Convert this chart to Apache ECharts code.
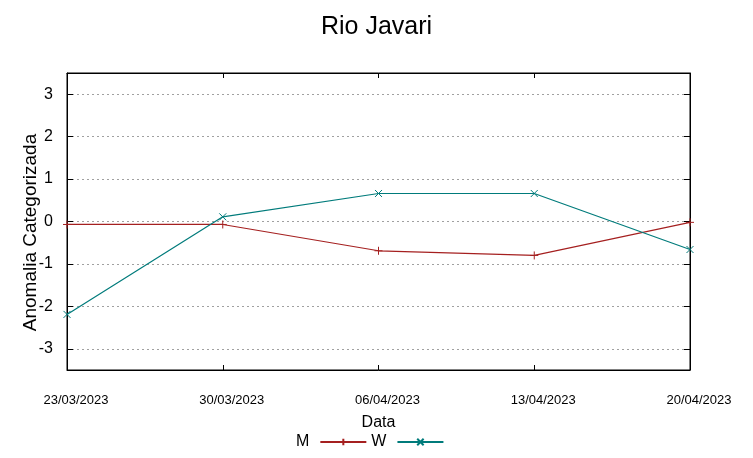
<!DOCTYPE html>
<html><head><meta charset="utf-8">
<script src="https://cdn.jsdelivr.net/npm/echarts@6/dist/echarts.min.js"></script>
<style>html,body{margin:0;padding:0;background:#fff}#c{width:753px;height:458px}</style>
</head><body><div id="c"></div>
<script>
const categories = ['23/03/2023','30/03/2023','06/04/2023','13/04/2023','20/04/2023'];
const seriesM = [-0.07, -0.07, -0.69, -0.80, -0.02];
const seriesW = [-2.19, 0.11, 0.66, 0.66, -0.66];
const yTicks = [-3,-2,-1,0,1,2,3];

const plus = 'path://M0,5L10,5M5,0L5,10';
const cross = 'path://M0,0L10,10M10,0L0,10';
const ff = '"Liberation Sans", Arial, sans-serif';

const chart = echarts.init(document.getElementById('c'), null, {renderer:'canvas'});
chart.setOption({
  animation:false,
  backgroundColor:'#fff',
  title:{text:'Rio Javari', left:'center', top:10, textStyle:{fontFamily:ff, fontSize:25, fontWeight:'normal', color:'#000'}},
  grid:{left:67, right:63, top:73, bottom:88, show:true, borderColor:'#000', borderWidth:1, backgroundColor:'transparent'},
  legend:{
    data:['M','W'], top:429, left:291, align:'right', itemWidth:46, itemHeight:8, itemGap:4,
    textStyle:{fontFamily:ff, fontSize:16, color:'#000', padding:[0,6,0,0]}
  },
  xAxis:[{
    type:'category', data:categories, boundaryGap:false,
    name:'Data', nameLocation:'middle', nameGap:45, nameMoveOverlap:false,
    nameTextStyle:{fontFamily:ff, fontSize:16, color:'#000'},
    axisLine:{show:true, onZero:false, lineStyle:{color:'#000'}},
    axisTick:{show:true, inside:true, length:5, lineStyle:{color:'#000'}},
    axisLabel:{margin:24, fontFamily:ff, fontSize:13, color:'#000', padding:[0,0,0,18]},
    splitLine:{show:false}
  },{
    type:'category', data:categories, boundaryGap:false, position:'top',
    axisLine:{show:true, onZero:false, lineStyle:{color:'#000'}},
    axisTick:{show:true, inside:true, length:5, lineStyle:{color:'#000'}},
    axisLabel:{show:false},
    splitLine:{show:false}
  }],
  yAxis:[{
    type:'value', min:-3.5, max:3.5, interval:1,
    name:'Anomalia Categorizada', nameLocation:'middle', nameGap:27, nameMoveOverlap:false,
    nameTextStyle:{fontFamily:ff, fontSize:19, color:'#000', padding:[0,22,0,0]},
    axisLine:{show:true, lineStyle:{color:'#000'}},
    axisTick:{show:true, inside:true, length:6, lineStyle:{color:'#000'}, customValues:yTicks},
    axisLabel:{fontFamily:ff, fontSize:16, color:'#000', margin:14, customValues:yTicks},
    splitLine:{show:true, lineStyle:{color:'#a0a0a0', type:[2,3], width:1}}
  },{
    type:'value', min:-3.5, max:3.5, interval:1, position:'right',
    axisLine:{show:true, lineStyle:{color:'#000'}},
    axisTick:{show:true, inside:true, length:6, lineStyle:{color:'#000'}, customValues:yTicks},
    axisLabel:{show:false, customValues:yTicks},
    splitLine:{show:false}
  }],
  series:[
    {name:'M', type:'line', data:seriesM, symbol:plus, symbolSize:8, showSymbol:true,
     lineStyle:{color:'#a52020', width:1.2}, itemStyle:{color:'#a52020', borderColor:'#a52020', borderWidth:1}},
    {name:'W', type:'line', data:seriesW, symbol:cross, symbolSize:7, showSymbol:true,
     lineStyle:{color:'#007b7b', width:1.2}, itemStyle:{color:'#007b7b', borderColor:'#007b7b', borderWidth:1}}
  ]
});
</script></body></html>
